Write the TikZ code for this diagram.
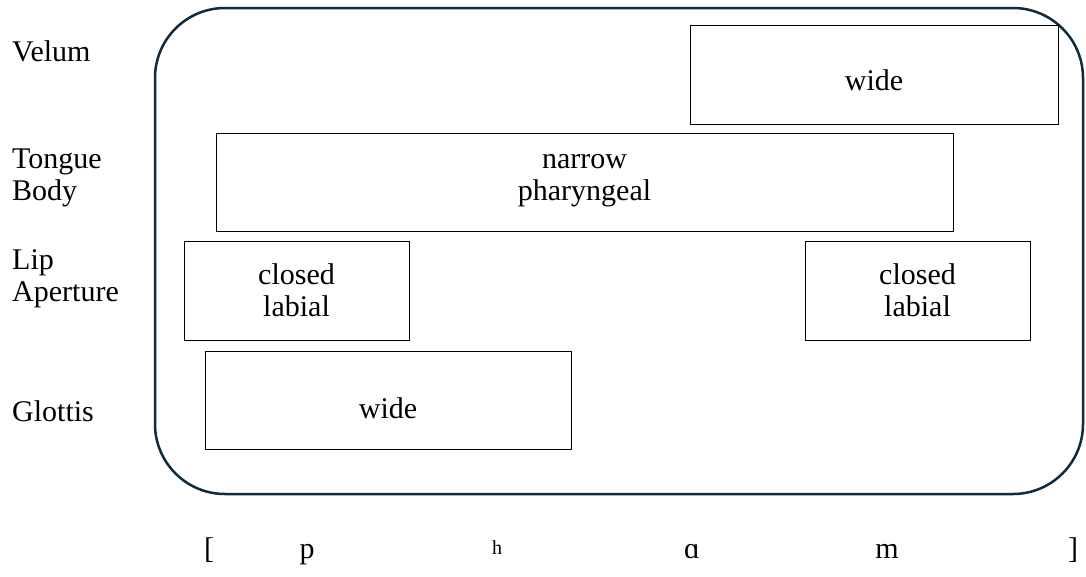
\documentclass[tikz,border=0pt]{standalone}
\usepackage{fontspec}
\setmainfont{Liberation Serif}
\definecolor{frameblue}{HTML}{0F2B3C}

\begin{document}
\begin{tikzpicture}[x=1pt,y=-1pt,
    gesture/.style={draw,line width=1pt,align=center,inner sep=0pt},
    tier/.style={anchor=west,align=left,inner sep=0pt},
    seg/.style={anchor=base,inner sep=0pt}]
  \useasboundingbox (0,0) rectangle (1086,576);
  \fontsize{30}{32}\selectfont
  % the utterance frame
  \draw[frameblue,line width=2.5pt,rounded corners=70pt] (155,8) rectangle (1083,494);
  % tier names
  \node[tier] (velum)   at (12,51)  {Velum};
  \node[tier] (tongue)  at (12,178) {Tongue\\Body};
  \node[tier] (lips)    at (12,279) {Lip\\Aperture};
  \node[tier] (glottis) at (12,411) {Glottis};
  % gestures
  \node[gesture,minimum width=368pt,minimum height=99pt] (vwide) at (874,74.5) {};
  \node at (vwide.center) [yshift=-6pt] {wide};
  \node[gesture,minimum width=737pt,minimum height=98pt] (tbody) at (584.5,182) {};
  \node[align=center] at (tbody.center) [yshift=1pt] {narrow\\pharyngeal};
  \node[gesture,minimum width=225pt,minimum height=99pt] (lipA)  at (296.5,290.5) {closed\\labial};
  \node[gesture,minimum width=225pt,minimum height=99pt] (lipB)  at (917.5,290.5) {closed\\labial};
  \node[gesture,minimum width=366pt,minimum height=98pt] (gwide) at (388,400) {};
  \node at (gwide.center) [yshift=-8pt] {wide};
  % transcription
  \node[seg] (lbr) at (209,558) {[};
  \node[seg] (p)   at (307,558) {p};
  \node[seg,font=\fontsize{20}{22}\selectfont] (asp) at (497,554) {h};
  \node[seg] (a)   at (692,558) {ɑ};
  \node[seg] (m)   at (887,558) {m};
  \node[seg] (rbr) at (1073,558) {]};
\end{tikzpicture}
\end{document}
